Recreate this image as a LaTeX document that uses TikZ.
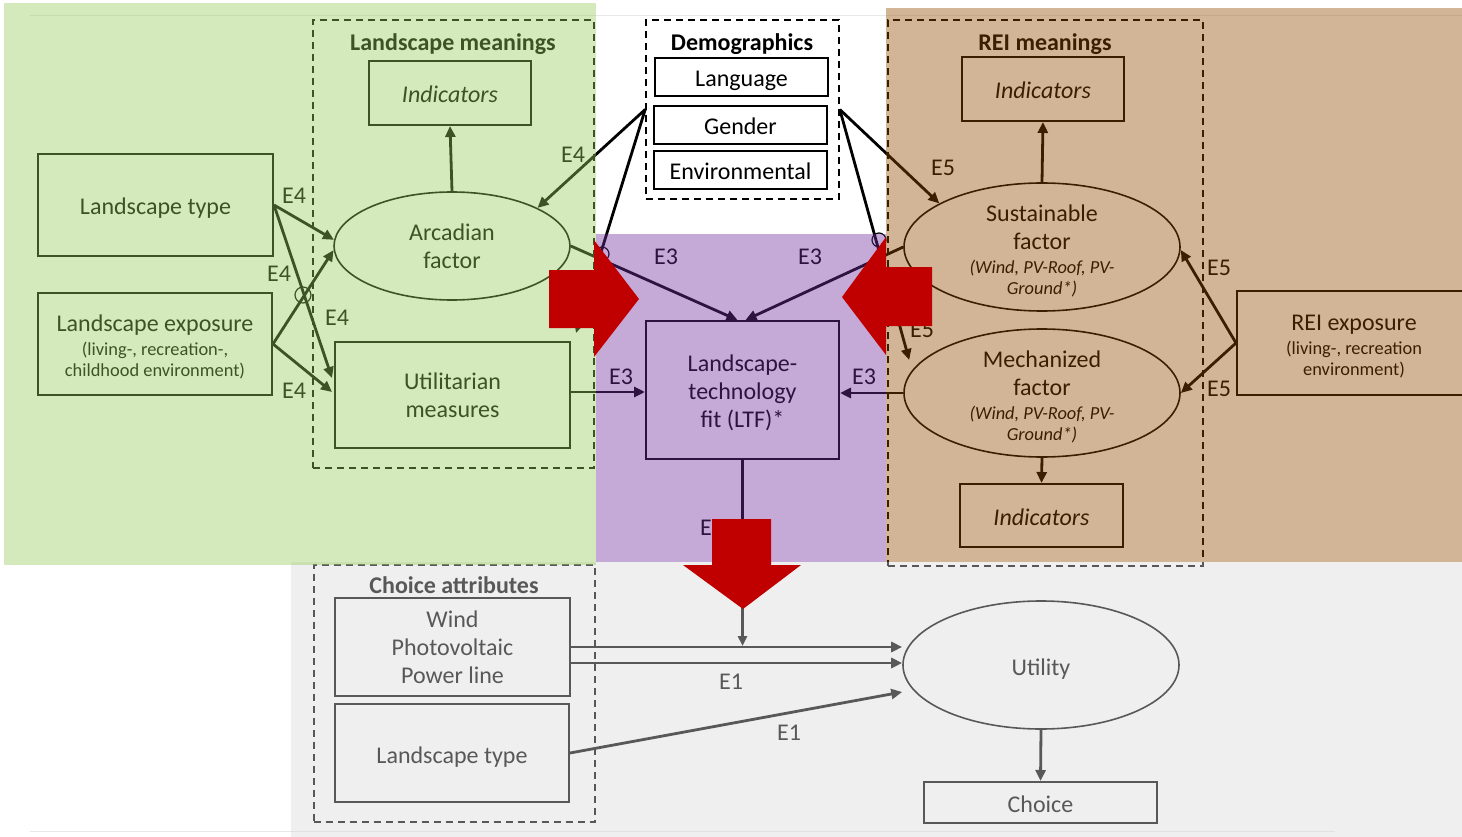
\documentclass[tikz,border=0pt]{standalone}
\usepackage{fontspec}
\setmainfont{Carlito}
\usetikzlibrary{arrows.meta,shapes.geometric,calc}
\definecolor{ovgreen}{RGB}{152,203,91}
\definecolor{ovpurple}{RGB}{113,47,159}
\definecolor{ovbrown}{RGB}{145,76,0}
\definecolor{ovgrey}{RGB}{216,216,216}
\definecolor{redarrow}{RGB}{192,0,0}
\definecolor{faintline}{RGB}{232,232,232}
\newcommand{\mfnt}{\fontsize{24}{28}\selectfont}
\newcommand{\smallfnt}{\fontsize{18.4}{21}\selectfont}
\newcommand{\smallit}{\fontsize{18.4}{21}\selectfont\itshape}
\newcommand{\topstrut}{\rule{0pt}{23pt}}
\begin{document}
\begin{tikzpicture}[x=1pt,y=-1pt,
  base/.style={font=\mfnt, text=black, inner sep=0pt, align=center},
  box/.style={base, draw=black, line width=2pt, rectangle},
  one/.style={text height=24pt, text depth=4pt},
  ell/.style={base, draw=black, line width=1.6pt, ellipse},
  grp/.style={draw=black, line width=1.6pt, dash pattern=on 7pt off 5pt, rectangle, inner sep=0pt},
  ttl/.style={font=\fontsize{24}{28}\selectfont\bfseries, inner sep=0pt},
  lbl/.style={font=\mfnt, inner sep=0pt},
  arr/.style={draw=black, line width=2.8pt, -{Triangle[length=11pt,width=10pt]}},
  arrthin/.style={draw=black, line width=2.4pt, -{Triangle[length=10pt,width=9pt]}},
  hop/.style={circle, draw=black, line width=1.2pt, minimum size=16pt, inner sep=0pt},
]
\useasboundingbox (0,0) rectangle (1462,837);
\fill[white] (0,0) rectangle (1462,837);
\draw[faintline, line width=1pt] (30,16) -- (1462,16);
\draw[faintline, line width=1pt] (30,831) -- (1335,831);

% ---------- Landscape side ----------
\node[box, one, minimum width=235, minimum height=102] (lt) at (155.5,205) {Landscape type};
\node[box, minimum width=234, minimum height=102] (lexp) at (155,344)
  {\mfnt\topstrut Landscape exposure\\[-4pt]\smallfnt (living-, recreation-,\\[-7pt]\smallfnt childhood environment)};
\node[grp, minimum width=281, minimum height=448] (lmg) at (453.5,244) {};
\node[ttl] (lmt) at (453,44) {Landscape meanings};
\node[box, one, minimum width=162, minimum height=64] (indg) at (450,93) {\itshape Indicators};
\node[ell, minimum width=236, minimum height=108] (arc) at (452,246) {Arcadian\\factor};
\node[box, minimum width=235, minimum height=106] (util) at (452.5,395) {Utilitarian\\measures};

% ---------- Demographics ----------
\node[grp, minimum width=193, minimum height=179] (demo) at (742.5,109.5) {};
\node[ttl] (demot) at (742,44) {Demographics};
\node[box, one, minimum width=173, minimum height=38] (lang) at (741.5,77) {Language};
\node[box, one, minimum width=173, minimum height=38] (gend) at (740.5,125) {Gender};
\node[box, one, minimum width=173, minimum height=38] (envi) at (740.5,170) {Environmental};

% ---------- LTF ----------
\node[box, minimum width=193, minimum height=138] (ltf) at (742.5,390) {\topstrut Landscape-\\technology\\fit (LTF)*};

% ---------- REI side ----------
\node[grp, minimum width=315, minimum height=546] (reig) at (1045.5,293) {};
\node[ttl] (reit) at (1045,44) {REI meanings};
\node[box, one, minimum width=162, minimum height=64] (indt) at (1043,89) {\itshape Indicators};
\node[ell, minimum width=276, minimum height=128] (sus) at (1042,247) {};
\node[base] (sust) at (1042,251)
  {Sustainable\\factor\\[-4pt]\smallit (Wind, PV-Roof, PV-\\[-7pt]\smallit Ground*)};
\node[ell, minimum width=276, minimum height=128] (mech) at (1042,393) {};
\node[base] (mecht) at (1042,397)
  {Mechanized\\factor\\[-4pt]\smallit (Wind, PV-Roof, PV-\\[-7pt]\smallit Ground*)};
\node[box, one, minimum width=163, minimum height=63] (indb) at (1041.5,515.5) {\itshape Indicators};
\node[box, minimum width=234, minimum height=104] (reix) at (1354,343)
  {\mfnt\topstrut REI exposure\\[-4pt]\smallfnt (living-, recreation\\[-7pt]\smallfnt environment)};

% ---------- Choice part ----------
\node[grp, minimum width=281, minimum height=257] (choiceg) at (454.5,693.5) {};
\node[ttl] (choicet) at (454,585) {Choice attributes};
\node[box, minimum width=235, minimum height=98] (wpp) at (452.5,647) {Wind\\Photovoltaic\\Power line};
\node[box, one, minimum width=234, minimum height=98] (lt2) at (452,753) {Landscape type};
\node[ell, one, minimum width=276, minimum height=128] (utility) at (1041,665) {Utility};
\node[box, one, minimum width=233, minimum height=41] (choice) at (1040.5,802.5) {Choice};

% ---------- connectors ----------
\draw[arr] (lt.east) -- (arc.177);
\draw[arr] (lt.east) -- ($(util.west)+(-2,-17)$);
\draw[arr] (lexp.east) -- (arc.182);
\draw[arr] (lexp.east) -- ($(util.west)+(-2,-3)$);
\node[hop] (hop1) at (303,295) {};
\draw[arr] (arc.north) -- (indg.south);
\draw[arr] (demo.west) -- (arc.24);
\draw[arr] (demo.west) -- ($(util.north east)+(5,-8)$);
\node[hop, minimum size=14pt] (hop2) at (602,254) {};
\draw[arr] (arc.east) -- ($(ltf.north)+(-5,0)$);
\draw[arr] (sus.west) -- ($(ltf.north)+(3,0)$);
\coordinate (u3) at ($(util.east)+(0,-3)$);
\draw[arr] (u3) -- (u3 -| ltf.west);
\draw[arr] (mech.west) -- (mech.west -| ltf.east);
\draw[arr] (demo.east) -- (sus.157);
\draw[arr] (demo.east) -- ($(mech.west)+(6,-33)$);
\node[hop, minimum size=14pt] (hop3) at (879,240) {};
\draw[arr] (sus.north) -- (indt.south);
\draw[arr] (mech.south) -- (indb.north);
\draw[arr] (reix.west) -- ($(sus.east)+(0,3)$);
\draw[arr] (reix.west) -- (mech.east);
\draw[arrthin] (ltf.south) -- ($(ltf.south |- wpp.east)+(0,-1)$);
\coordinate (w2) at ($(wpp.east)+(0,16)$);
\draw[arr] (wpp.east) -- (wpp.east -| utility.west);
\draw[arr] (w2) -- (w2 -| utility.west);
\draw[arr] (lt2.east) -- ($(utility.west)+(0,27)$);
\draw[arr] (utility.south) -- (choice.north);

% ---------- edge labels ----------
\node[lbl] (e4a) at (294,196) {E4};
\node[lbl] (e4b) at (279,274) {E4};
\node[lbl] (e4c) at (337,318) {E4};
\node[lbl] (e4d) at (294,391) {E4};
\node[lbl] (e4e) at (573,155) {E4};
\node[lbl] (e3a) at (666,257) {E3};
\node[lbl] (e3b) at (810,257) {E3};
\node[lbl] (e3c) at (621,377) {E3};
\node[lbl] (e3d) at (864,377) {E3};
\node[lbl] (e5a) at (943,168) {E5};
\node[lbl] (e5b) at (1219,268) {E5};
\node[lbl] (e5c) at (1219,389) {E5};
\node[lbl] (e5d) at (922,330) {E5};
\node[lbl] (e2) at (712,528) {E2};
\node[lbl] (e1a) at (731,682) {E1};
\node[lbl] (e1b) at (789,733) {E1};

% ---------- coloured overlays ----------
\fill[ovgrey, fill opacity=0.408] (291,562) rectangle (1462,837);
\fill[ovgreen, fill opacity=0.408] (4,3) rectangle (596,565);
\fill[ovpurple, fill opacity=0.408] (596,234) rectangle (886,562);
\fill[ovbrown, fill opacity=0.408] (886,8) rectangle (1462,562);

% ---------- red block arrows ----------
\fill[redarrow] (549,270) -- (594,270) -- (594,240) -- (639,299) -- (594,357) -- (594,328) -- (549,328) -- cycle;
\fill[redarrow] (932,267) -- (886,267) -- (886,237) -- (842,297) -- (886,355) -- (886,326) -- (932,326) -- cycle;
\fill[redarrow] (712,519) -- (771,519) -- (771,565) -- (801,565) -- (743,609) -- (683,565) -- (712,565) -- cycle;
\end{tikzpicture}
\end{document}
